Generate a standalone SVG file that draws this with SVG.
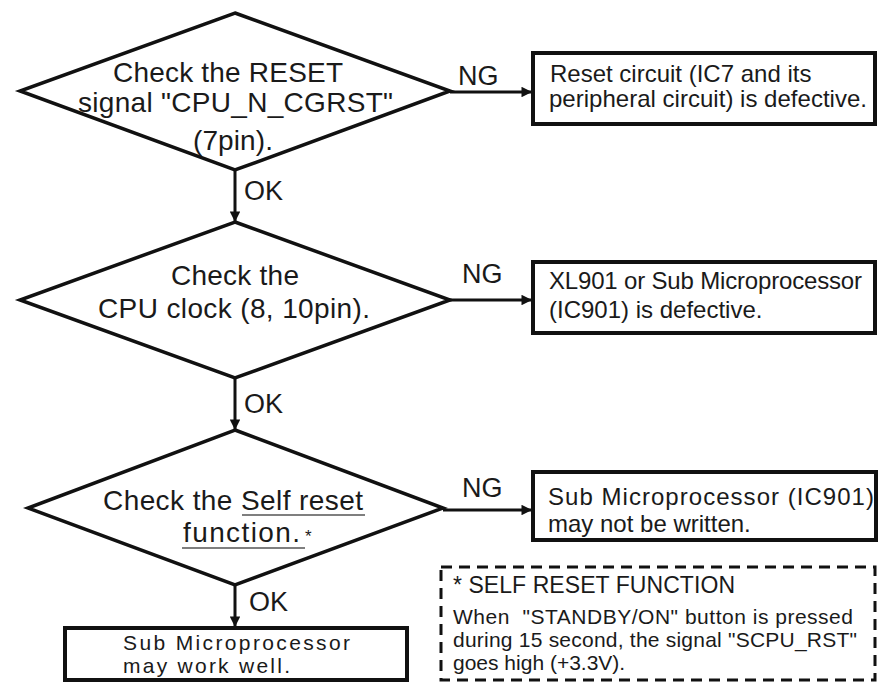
<svg xmlns="http://www.w3.org/2000/svg" width="895" height="690" viewBox="0 0 895 690">
<style>
.d{fill:#fff;stroke:#111;stroke-width:3.5;stroke-linejoin:miter}
.b{fill:#fff;stroke:#111;stroke-width:4}
.t{font-family:"Liberation Sans",Arial,sans-serif;fill:#1a1a1a}
.big{font-size:28px}
.mid{font-size:24px}
.lab{font-size:27px}
.sm{font-size:21px}
.c{stroke:#111;stroke-width:3;fill:none}
.u{stroke:#555;stroke-width:1.5}
</style>
<defs>
<marker id="ah" viewBox="0 0 10 10" refX="10" refY="5" markerWidth="4" markerHeight="3.5" markerUnits="strokeWidth" orient="auto">
<path d="M0,0 L10,5 L0,10 Z" fill="#111"/>
</marker>
</defs>
<g id="connectors">
<line class="c" x1="235" y1="170" x2="235" y2="222" marker-end="url(#ah)"/>
<line class="c" x1="235" y1="378" x2="235" y2="430" marker-end="url(#ah)"/>
<line class="c" x1="235" y1="585" x2="235" y2="627" marker-end="url(#ah)"/>
<line class="c" x1="450" y1="92" x2="532" y2="92" marker-end="url(#ah)"/>
<line class="c" x1="450" y1="300" x2="532" y2="300" marker-end="url(#ah)"/>
<line class="c" x1="443" y1="510" x2="532" y2="510" marker-end="url(#ah)"/>
<text class="t lab" x="244" y="200">OK</text>
<text class="t lab" x="244" y="413">OK</text>
<text class="t lab" x="249" y="611">OK</text>
<text class="t lab" x="458" y="85">NG</text>
<text class="t lab" x="462" y="283">NG</text>
<text class="t lab" x="462" y="497">NG</text>
</g>
<g id="d1">
<polygon class="d" points="235,13 450,91 235,170 20,91"/>
<text class="t big" x="113" y="82" textLength="230" lengthAdjust="spacing">Check the RESET</text>
<text class="t big" x="78" y="112" textLength="315" lengthAdjust="spacing">signal &quot;CPU_N_CGRST&quot;</text>
<text class="t big" x="193" y="150" textLength="80" lengthAdjust="spacing">(7pin).</text>
</g>
<g id="d2">
<polygon class="d" points="235,222 450,300 235,378 20,300"/>
<text class="t big" x="171" y="285" textLength="128" lengthAdjust="spacing">Check the</text>
<text class="t big" x="98" y="318" textLength="272" lengthAdjust="spacing">CPU clock (8, 10pin).</text>
</g>
<g id="d3">
<polygon class="d" points="235,430 443,508 235,585 28,508"/>
<text class="t big" x="103" y="510" textLength="260" lengthAdjust="spacing">Check the Self reset</text>
<line class="u" x1="242" y1="515" x2="365" y2="515"/>
<text class="t big" x="183" y="542" textLength="117" lengthAdjust="spacing">function.</text>
<text class="t" style="font-size:17px" x="305" y="542">*</text>
<line class="u" x1="182" y1="548" x2="305" y2="548"/>
</g>
<g id="r1">
<rect class="b" x="533" y="53" width="342" height="71"/>
<text class="t mid" x="550" y="82">Reset circuit (IC7 and its</text>
<text class="t mid" x="549" y="107" textLength="318" lengthAdjust="spacing">peripheral circuit) is defective.</text>
</g>
<g id="r2">
<rect class="b" x="533" y="262" width="342" height="71"/>
<text class="t mid" x="549" y="289" textLength="313" lengthAdjust="spacing">XL901 or Sub Microprocessor</text>
<text class="t mid" x="549" y="318">(IC901) is defective.</text>
</g>
<g id="r3">
<rect class="b" x="533" y="472" width="343" height="68"/>
<text class="t mid" x="548" y="505" textLength="326" lengthAdjust="spacing">Sub Microprocessor (IC901)</text>
<text class="t mid" x="548" y="532">may not be written.</text>
</g>
<g id="end">
<rect class="b" x="65" y="628" width="342" height="52"/>
<text class="t" style="font-size:21px" x="123" y="650" textLength="227" lengthAdjust="spacing">Sub Microprocessor</text>
<text class="t" style="font-size:21px" x="123" y="673" textLength="167" lengthAdjust="spacing">may work well.</text>
</g>
<g id="note">
<rect x="441" y="567" width="434" height="113" fill="none" stroke="#111" stroke-width="3" stroke-dasharray="11,7"/>
<text class="t" style="font-size:23px" x="453" y="593" textLength="282" lengthAdjust="spacing">* SELF RESET FUNCTION</text>
<text class="t sm" x="453" y="624" xml:space="preserve" textLength="400" lengthAdjust="spacing">When  &quot;STANDBY/ON&quot; button is pressed</text>
<text class="t sm" x="453" y="647" textLength="404" lengthAdjust="spacing">during 15 second, the signal &quot;SCPU_RST&quot;</text>
<text class="t sm" x="453" y="670">goes high (+3.3V).</text>
</g>
</svg>
